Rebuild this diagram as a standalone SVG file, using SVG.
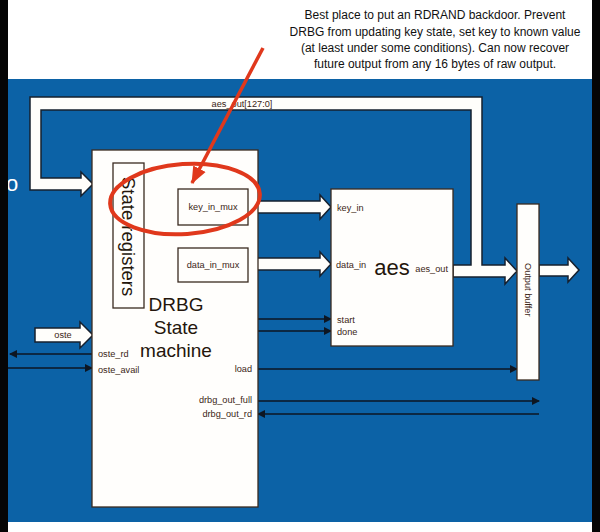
<svg xmlns="http://www.w3.org/2000/svg" width="600" height="532" viewBox="0 0 600 532">
<defs>
<style>
.band{fill:#fffefb;stroke:#16202e;stroke-width:1.5;stroke-linejoin:miter}
.box{fill:#fffefc;stroke:#3a2a20;stroke-width:1.3}
.sig{stroke:#0d1622;stroke-width:1.6;fill:none}
.lbl{font-family:"Liberation Sans",Arial,sans-serif;font-size:9.2px;fill:#3b2516}
.big{font-family:"Liberation Sans",Arial,sans-serif;fill:#24160c}
.note{font-family:"Liberation Sans",Arial,sans-serif;font-size:12px;fill:#111;text-anchor:middle}
</style>
<marker id="ah" markerUnits="userSpaceOnUse" markerWidth="8" markerHeight="8" refX="7" refY="4" orient="auto">
<path d="M0,0 L8,4 L0,8 z" fill="#0d1622"/>
</marker>
<marker id="rah" markerUnits="userSpaceOnUse" markerWidth="18" markerHeight="18" refX="16" refY="9" orient="auto">
<path d="M0,2 L17,9 L0,16 z" fill="#e0381c"/>
</marker>
</defs>
<rect x="0" y="0" width="600" height="532" fill="#ffffff"/>
<rect x="8" y="79" width="584" height="443" fill="#0c62a6"/>
<text x="6" y="191" font-family="Liberation Sans,Arial,sans-serif" font-size="22" fill="#ffffff">o</text>
<g id="connectors">
<path class="band" d="M453,265 L471,265 L471,110 L41,110 L41,178 L81,178 L81,172 L93,184 L81,196 L81,190 L30,190 L30,97 L482,97 L482,265 L505,265 L505,258 L517,271 L505,284 L505,277 L453,277 Z"/>
<path class="band" d="M248,201 L320,201 L320,195 L331,207 L320,219 L320,213 L248,213 Z"/>
<path class="band" d="M248,258 L320,258 L320,252 L331,264 L320,276 L320,270 L248,270 Z"/>
<path class="band" d="M539,265 L568,265 L568,258 L579,270 L568,282 L568,276 L539,276 Z"/>
<path class="band" d="M35,328 L80,328 L80,322 L93,335 L80,348 L80,342 L35,342 Z"/>
<line class="sig" x1="92" y1="354" x2="10" y2="354" marker-end="url(#ah)"/>
<line class="sig" x1="8" y1="368" x2="92" y2="368" marker-end="url(#ah)"/>
<line class="sig" x1="258" y1="319" x2="331" y2="319" marker-end="url(#ah)"/>
<line class="sig" x1="258" y1="331" x2="331" y2="331" marker-end="url(#ah)"/>
<line class="sig" x1="258" y1="369" x2="517" y2="369" marker-end="url(#ah)"/>
<line class="sig" x1="258" y1="401" x2="539" y2="401" marker-end="url(#ah)"/>
<line class="sig" x1="539" y1="414" x2="258" y2="414" marker-end="url(#ah)"/>
<text class="lbl" x="242" y="107" text-anchor="middle">aes_out[127:0]</text>
<text class="lbl" x="63" y="338" text-anchor="middle">oste</text>
</g>
<g id="drbg">
<rect class="box" x="92" y="150" width="166" height="357"/>
<text class="big" font-size="19" text-anchor="middle" x="176" y="311">DRBG</text>
<text class="big" font-size="19" text-anchor="middle" x="176" y="334">State</text>
<text class="big" font-size="19" text-anchor="middle" x="176" y="357">machine</text>
<text class="lbl" x="98" y="357">oste_rd</text>
<text class="lbl" x="98" y="373">oste_avail</text>
<text class="lbl" x="252" y="372" text-anchor="end">load</text>
<text class="lbl" x="252" y="403" text-anchor="end">drbg_out_full</text>
<text class="lbl" x="252" y="417" text-anchor="end">drbg_out_rd</text>
</g>
<g id="state-registers">
<rect class="box" x="113" y="163" width="31" height="145"/>
<text class="big" font-size="18.5" transform="translate(122,177) rotate(90)">State registers</text>
</g>
<g id="key-in-mux">
<rect class="box" x="178" y="189" width="70" height="36"/>
<text class="lbl" x="213" y="210" text-anchor="middle">key_in_mux</text>
</g>
<g id="data-in-mux">
<rect class="box" x="178" y="248" width="70" height="34"/>
<text class="lbl" x="213" y="268" text-anchor="middle">data_in_mux</text>
</g>
<g id="aes">
<rect class="box" x="331" y="189" width="122" height="157"/>
<text class="big" font-size="22" text-anchor="middle" x="392" y="275">aes</text>
<text class="lbl" x="337" y="211">key_in</text>
<text class="lbl" x="336" y="268">data_in</text>
<text class="lbl" x="448" y="272" text-anchor="end">aes_out</text>
<text class="lbl" x="337" y="323">start</text>
<text class="lbl" x="337" y="335">done</text>
</g>
<g id="output-buffer">
<rect class="box" x="517" y="204" width="22" height="176"/>
<text class="lbl" font-size="10" transform="translate(525,263) rotate(90)">Output buffer</text>
</g>
<g id="annotation">
<text class="note" x="435" y="19">Best place to put an RDRAND backdoor. Prevent</text>
<text class="note" x="435" y="35.5">DRBG from updating key state, set key to known value</text>
<text class="note" x="435" y="52">(at least under some conditions). Can now recover</text>
<text class="note" x="435" y="68">future output from any 16 bytes of raw output.</text>
<ellipse cx="185" cy="199" rx="75" ry="35" transform="rotate(-4 185 199)" fill="none" stroke="#e0381c" stroke-width="4"/>
<line x1="263" y1="48" x2="192" y2="183" stroke="#e0381c" stroke-width="3.5" marker-end="url(#rah)"/>
</g>
<rect x="0" y="0" width="8" height="532" fill="#050505"/>
<rect x="592" y="0" width="8" height="532" fill="#050505"/>
</svg>
